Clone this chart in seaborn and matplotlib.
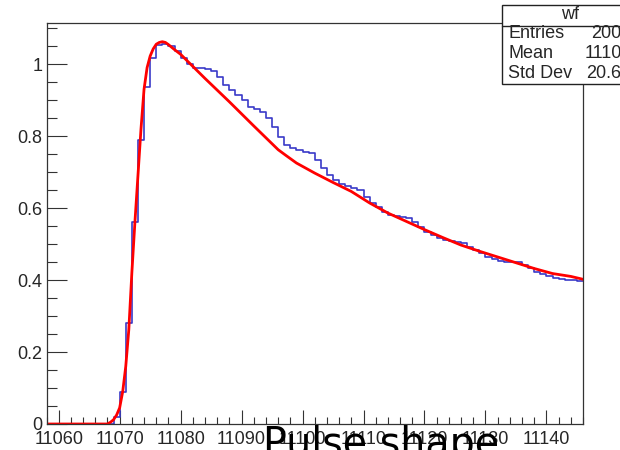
import matplotlib
matplotlib.use("Agg")
import matplotlib.pyplot as plt
from matplotlib.ticker import MultipleLocator, FuncFormatter
from matplotlib.patches import Rectangle
from matplotlib.lines import Line2D
import numpy as np
import seaborn as sns

# ---------------- data ----------------
bin_edges = list(range(11058, 11147))  # 1-unit bins from 11058 to 11146
bin_values = [
    0, 0, 0, 0, 0, 0, 0, 0, 0, 0, 0,          # 11058 - 11068
    0.02, 0.09, 0.28, 0.56, 0.79, 0.937, 1.018, 1.054, 1.056, 1.05,   # 11069 - 11078
    1.035, 1.016, 0.999, 0.99, 0.988, 0.985, 0.98, 0.965, 0.942, 0.928,  # 11079 - 11088
    0.914, 0.9, 0.881, 0.875, 0.868, 0.85, 0.826, 0.798, 0.775, 0.766,  # 11089 - 11098
    0.761, 0.757, 0.752, 0.733, 0.71, 0.691, 0.678, 0.666, 0.661, 0.657,  # 11099 - 11108
    0.65, 0.631, 0.613, 0.604, 0.59, 0.58, 0.578, 0.574, 0.571, 0.562,  # 11109 - 11118
    0.548, 0.534, 0.525, 0.518, 0.511, 0.509, 0.506, 0.504, 0.493, 0.483,  # 11119 - 11128
    0.474, 0.465, 0.457, 0.454, 0.451, 0.449, 0.449, 0.442, 0.433, 0.423,  # 11129 - 11138
    0.417, 0.411, 0.405, 0.402, 0.4, 0.4, 0.397,                          # 11139 - 11145
]

fit_x = [11058, 11068, 11068.5, 11069, 11069.5, 11070, 11070.5, 11071, 11071.5,
         11072, 11072.5, 11073, 11073.5, 11074, 11074.5, 11075, 11075.5, 11076,
         11076.5, 11077, 11077.5, 11078, 11079, 11080, 11084, 11088, 11092, 11096,
         11097.2, 11099, 11102, 11105, 11108, 11111, 11114, 11117, 11120, 11123,
         11126, 11129, 11132, 11135, 11138, 11141, 11144, 11146]
fit_y = [0, 0, 0.005, 0.012, 0.025, 0.045, 0.09, 0.16, 0.262,
         0.42, 0.56, 0.69, 0.82, 0.93, 0.99, 1.022, 1.042, 1.055,
         1.06, 1.062, 1.06, 1.054, 1.04, 1.027, 0.96, 0.895, 0.828, 0.762,
         0.747, 0.725, 0.697, 0.671, 0.646, 0.614, 0.586, 0.563, 0.54, 0.518,
         0.497, 0.48, 0.464, 0.448, 0.432, 0.418, 0.41, 0.402]

x_ticks = [11060, 11070, 11080, 11090, 11100, 11110, 11120, 11130, 11140]
y_ticks = [0, 0.2, 0.4, 0.6, 0.8, 1.0]

stats_title = "wf"
stats_names = ["Entries", "Mean", "Std Dev"]
stats_values = ["200", "1110", "20.6"]
chart_title = "Pulse shape"

# ---------------- style ----------------
sns.set_style("white")
plt.rcParams["font.family"] = ["Liberation Sans", "DejaVu Sans"]

W, H = 620, 450
fig = plt.figure(figsize=(W / 100, H / 100), dpi=100)
fig.patch.set_facecolor("white")

def fx(px):
    return px / W

def fy(py):
    return 1 - py / H

left, right, top, bottom = 46.5, 583, 23, 424
ax = fig.add_axes([fx(left), fy(bottom), fx(right) - fx(left), fy(top) - fy(bottom)])

centers = [e + 0.5 for e in bin_edges[:-1]]
sns.histplot(x=centers, weights=bin_values, bins=bin_edges, element="step",
             fill=False, color="#3a3ac8", linewidth=1.2, ax=ax)
sns.lineplot(x=fit_x, y=fit_y, color="#ff0000", linewidth=2.0, ax=ax, legend=False)

ax.set_xlim(11058, 11146)
ax.set_ylim(0, 1.114)
ax.set_xticks(x_ticks)
ax.set_yticks(y_ticks)
ax.set_xlabel("")
ax.set_ylabel("")

ax.xaxis.set_minor_locator(MultipleLocator(2))
ax.yaxis.set_minor_locator(MultipleLocator(0.05))
ax.xaxis.set_major_formatter(FuncFormatter(lambda v, p: "%d" % round(v)))
ax.yaxis.set_major_formatter(FuncFormatter(lambda v, p: "%g" % round(v, 2)))

for s in ax.spines.values():
    s.set_visible(True)
    s.set_color("#333333")
    s.set_linewidth(0.9)

ax.tick_params(axis="x", which="major", direction="in", length=10, width=0.8,
               color="#333333", labelsize=13, pad=5, top=False, bottom=True)
ax.tick_params(axis="x", which="minor", direction="in", length=5, width=0.8,
               color="#333333", top=False, bottom=True)
ax.tick_params(axis="y", which="major", direction="in", length=14.5, width=0.8,
               color="#333333", labelsize=13, pad=3, left=True, right=False)
ax.tick_params(axis="y", which="minor", direction="in", length=7.5, width=0.8,
               color="#333333", left=True, right=False)

# ---------------- stats box ----------------
bx0, by0, bx1, by1 = 502, 5, 630, 84
fig.patches.append(Rectangle((fx(bx0), fy(by1)), fx(bx1) - fx(bx0), fy(by0) - fy(by1),
                             transform=fig.transFigure, facecolor="white",
                             edgecolor="#222222", linewidth=1.0, zorder=10))
fig.lines.append(Line2D([fx(bx0), fx(bx1)], [fy(26), fy(26)], transform=fig.transFigure,
                        color="#222222", linewidth=1.0, zorder=11))
fig.text(fx(570), fy(14.5), stats_title, ha="center", va="center", fontsize=13, zorder=12)
row_y = [34, 54, 73]
for name, val, yy in zip(stats_names, stats_values, row_y):
    fig.text(fx(508), fy(yy), name, ha="left", va="center", fontsize=13, zorder=12)
    fig.text(fx(621.5), fy(yy), val, ha="right", va="center", fontsize=13, zorder=12)

# ---------------- title (cut at the bottom) ----------------
fig.text(fx(381), fy(456), chart_title, ha="center", va="baseline", fontsize=28.5,
         family=["DejaVu Sans"], color="black", zorder=12)

fig.savefig("out.png", dpi=100)
